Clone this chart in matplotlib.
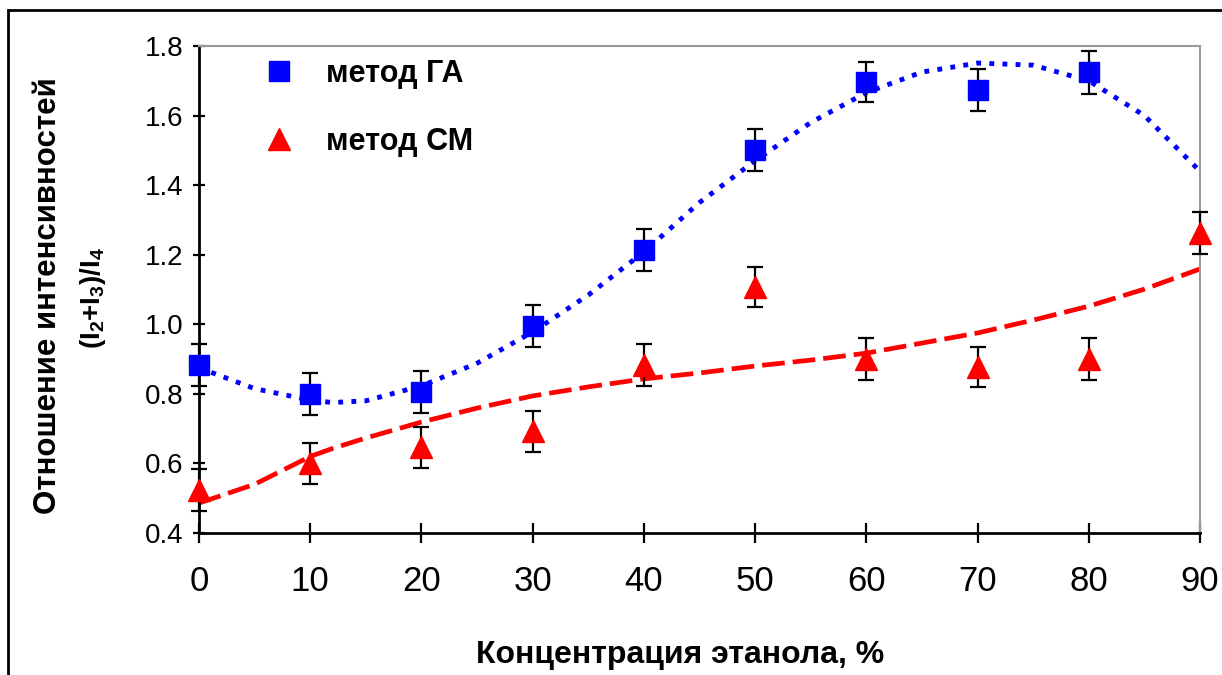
import numpy as np
import matplotlib
matplotlib.use("Agg")
import matplotlib.pyplot as plt
from matplotlib.patches import Rectangle
from matplotlib.lines import Line2D

plt.rcParams["font.family"] = ["Liberation Sans", "DejaVu Sans"]
plt.rcParams["mathtext.fontset"] = "custom"
plt.rcParams["mathtext.rm"] = "Liberation Sans:bold"
plt.rcParams["mathtext.it"] = "Liberation Sans:bold"
plt.rcParams["mathtext.bf"] = "Liberation Sans:bold"

# Data
conc = [0, 10, 20, 30, 40, 50, 60, 70, 80]
ga_vals = [0.883, 0.800, 0.805, 0.995, 1.213, 1.500, 1.696, 1.673, 1.725]
ga_err = [0.06, 0.06, 0.06, 0.06, 0.06, 0.06, 0.057, 0.06, 0.062]

conc_cm = [0, 10, 20, 30, 40, 50, 60, 70, 80, 90]
cm_vals = [0.524, 0.600, 0.646, 0.692, 0.882, 1.108, 0.900, 0.878, 0.900, 1.262]
cm_err = [0.06, 0.06, 0.06, 0.06, 0.06, 0.058, 0.06, 0.058, 0.06, 0.06]

# Trend lines
trend_x = [0, 5, 10, 12, 15, 20, 25, 30, 35, 40, 45, 50, 55, 60, 65, 70, 75, 80, 85, 90]
ga_trend = [0.875, 0.815, 0.782, 0.775, 0.780, 0.823, 0.888, 0.978, 1.084, 1.208, 1.350,
            1.470, 1.580, 1.666, 1.725, 1.751, 1.745, 1.700, 1.600, 1.440]
cm_trend = [0.486, 0.540, 0.620, 0.643, 0.673, 0.719, 0.759, 0.794, 0.820, 0.843, 0.860,
            0.880, 0.897, 0.917, 0.946, 0.975, 1.012, 1.052, 1.101, 1.159]

labels = ["метод ГА", "метод СМ"]

fig = plt.figure(figsize=(12.22, 6.75), dpi=100)
ax = fig.add_axes([199/1222, 1-533/675, (1200-199)/1222, (533-46)/675])

# Outer frame
fig.patches.append(Rectangle((8/1222, -0.1), 1.2, 1-10/675+0.1, transform=fig.transFigure,
                             fill=False, edgecolor="black", linewidth=2))

# Trend lines
ax.plot(trend_x, ga_trend, color="#0000ff", lw=3.5, ls=(0, (1, 1.7)), zorder=2)
ax.plot(trend_x, cm_trend, color="#ff0000", lw=3.4, ls=(0, (4.8, 1.7)), zorder=2)

# Points with error bars
ax.errorbar(conc, ga_vals, yerr=ga_err, fmt="s", color="#0000ff", ms=14, ecolor="black",
            elinewidth=1.6, capsize=6, capthick=1.6, zorder=3, clip_on=False)
ax.errorbar(conc_cm, cm_vals, yerr=cm_err, fmt="^", color="#ff0000", ms=16, ecolor="black",
            elinewidth=1.6, capsize=6, capthick=1.6, zorder=3, clip_on=False)

ax.set_xlim(0, 90)
ax.set_ylim(0.4, 1.8)
ax.set_xticks(np.arange(0, 91, 10))
ax.set_yticks(np.arange(0.4, 1.81, 0.2))
ax.set_yticklabels([f"{v:.1f}" for v in np.arange(0.4, 1.81, 0.2)])

ax.tick_params(axis="x", direction="inout", length=14, width=1.6, labelsize=25, pad=16)
ax.tick_params(axis="y", direction="inout", length=8, width=1.6, labelsize=20, pad=7)

for side in ["left", "bottom"]:
    ax.spines[side].set_linewidth(2)
    ax.spines[side].set_color("black")
for side in ["top", "right"]:
    ax.spines[side].set_linewidth(1.5)
    ax.spines[side].set_color("#999999")

fig.text(680/1222, 1-655/675, "Концентрация этанола, %", fontsize=23, fontweight="bold",
         ha="center", va="center")
fig.text(48/1222, 1-296/675, "Отношение интенсивностей", rotation=90, fontsize=22.5,
         fontweight="bold", ha="center", va="center")
fig.text(93/1222, 1-298/675, "(I$_2$+I$_3$)/I$_4$", rotation=90, fontsize=20,
         fontweight="bold", ha="center", va="center")

# Legend (markers only, no error bars)
handles = [Line2D([], [], ls="none", marker="s", ms=14, color="#0000ff"),
           Line2D([], [], ls="none", marker="^", ms=16, color="#ff0000")]
ax.legend(handles, labels, loc="upper left", bbox_to_anchor=(0.034, 1.03), frameon=False,
          prop={"weight": "bold", "size": 22}, handletextpad=0.95, labelspacing=1.25,
          handlelength=1.2)

fig.savefig("out.png", dpi=100)
